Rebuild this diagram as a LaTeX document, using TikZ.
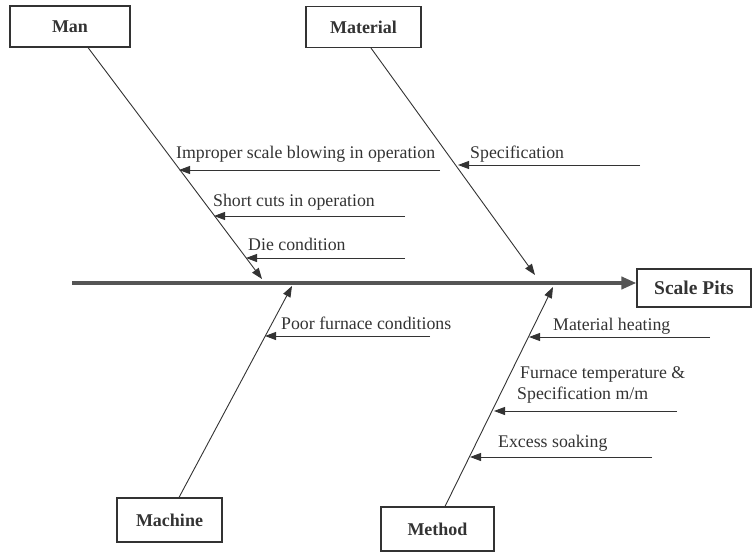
\documentclass[tikz,border=0pt]{standalone}
\usepackage{fontspec}
\setmainfont{Liberation Serif}
\usetikzlibrary{arrows.meta}
\definecolor{ink}{HTML}{333333}
\definecolor{spinec}{HTML}{555555}
\begin{document}
\begin{tikzpicture}[x=1pt,y=-1pt,
  catbox/.style={draw=ink,line width=1.1pt,inner sep=0pt,font=\fontsize{18}{21}\selectfont\bfseries,text=ink},
  bone/.style={draw=ink,line width=0.9pt,-{Triangle[length=11pt,width=8pt]}},
  sub/.style={draw=ink,line width=0.9pt,-{Triangle[length=11pt,width=8pt]}},
  lbl/.style={anchor=base west,inner sep=0pt,font=\fontsize{17.8}{22}\selectfont,text=ink}]
\useasboundingbox (0,0) rectangle (753,557);
% category boxes
\node[catbox,minimum width=120pt,minimum height=41pt] (man) at (70,26.5) {Man};
\node[catbox,minimum width=115pt,minimum height=41pt] (material) at (363.5,27) {Material};
\node[catbox,minimum width=105pt,minimum height=44pt] (machine) at (169.5,520) {Machine};
\node[catbox,minimum width=113pt,minimum height=44pt] (method) at (437.5,529) {Method};
\node[catbox,minimum width=114pt,minimum height=38pt,font=\fontsize{19.5}{22}\selectfont\bfseries] (pits) at (694,288) {Scale Pits};
% spine
\coordinate (spinestart) at (72,283);
\draw[draw=spinec,line width=4pt,-{Triangle[length=15pt,width=12pt]}] (spinestart) -- (pits.west |- spinestart);
% bone tips
\coordinate (manT) at (262,279);
\coordinate (matT) at (535,275);
\coordinate (macT) at (292,286);
\coordinate (metT) at (553,287);
\draw[bone] ([xshift=18pt]man.south) -- (manT);
\draw[bone] ([xshift=7.5pt]material.south) -- (matT);
\draw[bone] ([xshift=9.5pt]machine.north) -- (macT);
\draw[bone] ([xshift=7.5pt]method.north) -- (metT);
% sub causes
\node[lbl] (t1) at (176,158) {Improper scale blowing in operation};
\coordinate (r1) at (440,170); \coordinate (e1) at (179,170);
\draw[sub] (r1) -- (e1);
\node[lbl] (t2) at (213,206) {Short cuts in operation};
\coordinate (r2) at (405,216); \coordinate (e2) at (214,216);
\draw[sub] (r2) -- (e2);
\node[lbl] (t3) at (248,250) {Die condition};
\coordinate (r3) at (405,258); \coordinate (e3) at (246,258);
\draw[sub] (r3) -- (e3);
\node[lbl] (t4) at (470,158) {Specification};
\coordinate (r4) at (640,165); \coordinate (e4) at (458,165);
\draw[sub] (r4) -- (e4);
\node[lbl] (t5) at (281,329) {Poor furnace conditions};
\coordinate (r5) at (430,336); \coordinate (e5) at (265,336);
\draw[sub] (r5) -- (e5);
\node[lbl] (t6) at (553,330) {Material heating};
\coordinate (r6) at (710,337); \coordinate (e6) at (529,337);
\draw[sub] (r6) -- (e6);
\node[lbl] (t7) at (520,378) {Furnace temperature \&};
\node[lbl] (t7b) at (517,399) {Specification m/m};
\coordinate (r7) at (677,411); \coordinate (e7) at (494,411);
\draw[sub] (r7) -- (e7);
\node[lbl] (t8) at (498,447) {Excess soaking};
\coordinate (r8) at (652,457); \coordinate (e8) at (470,457);
\draw[sub] (r8) -- (e8);
\end{tikzpicture}
\end{document}
